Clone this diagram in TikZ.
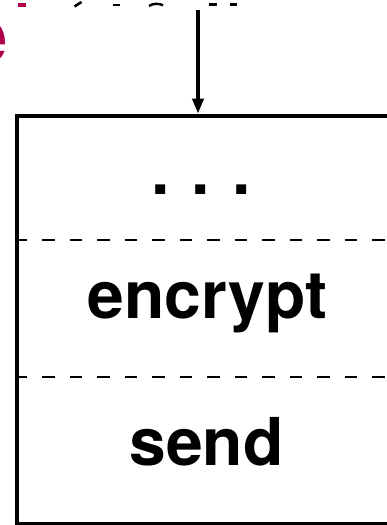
\documentclass[tikz,border=0pt]{standalone}
\usepackage{fontspec}
\newfontfamily\helv{TeX Gyre Heros}
\usetikzlibrary{arrows.meta}
\definecolor{titlered}{RGB}{176,0,75}
\tikzset{
  boxline/.style={line width=3.8pt},
  sepline/.style={line width=2.2pt, dash pattern=on 12.5pt off 15pt},
  flow/.style={line width=3.8pt, -{Triangle[width=11pt,length=15pt]}},
  label/.style={font=\helv\bfseries\fontsize{66}{70}\selectfont, inner sep=0pt, anchor=base},
  frag/.style={fill=black, draw=none},
}
\begin{document}
\begin{tikzpicture}[x=1pt,y=-1pt]
  \clip (0,0) rectangle (387,525);
  \fill[white] (0,0) rectangle (387,525);

  % remnants of the heading line above
  \fill[titlered] (18,3) rectangle (26,6.5);
  \draw[line width=2.6pt] (74.5,6.5) -- (81.5,2);
  \fill[frag] (113,4) rectangle (120,6.3);
  \draw[line width=2.4pt] (149,6) .. controls (153,3.2) and (159,3.2) .. (163,5.3);
  \fill[frag] (209,3) rectangle (217,6.3);
  \fill[frag] (230,3) rectangle (237,6.3);
  \node[font=\helv\bfseries\fontsize{80}{84}\selectfont, text=titlered,
        inner sep=0pt, anchor=base east] (redE) at (8.5,63) {e};

  % the stack of steps
  \node[draw, boxline, anchor=north west, inner sep=0pt,
        minimum width=390pt, minimum height=408.5pt] (box) at (14.7,113.7) {};
  \coordinate (src) at (198,10);
  \draw[flow] (src) -- (src |- box.north);

  \coordinate (cut1) at (0,240);
  \coordinate (cut2) at (0,377);
  \draw[sepline] (box.west |- cut1) -- (box.east |- cut1);
  \draw[sepline] (box.west |- cut2) -- (box.east |- cut2);

  \node[label] (dots) at (201,194) {.\,\,.\,\,.};
  \node[label] (enc) at (207.5,318) {encrypt};
  \node[label] (snd) at (206.5,465) {send};
\end{tikzpicture}
\end{document}
